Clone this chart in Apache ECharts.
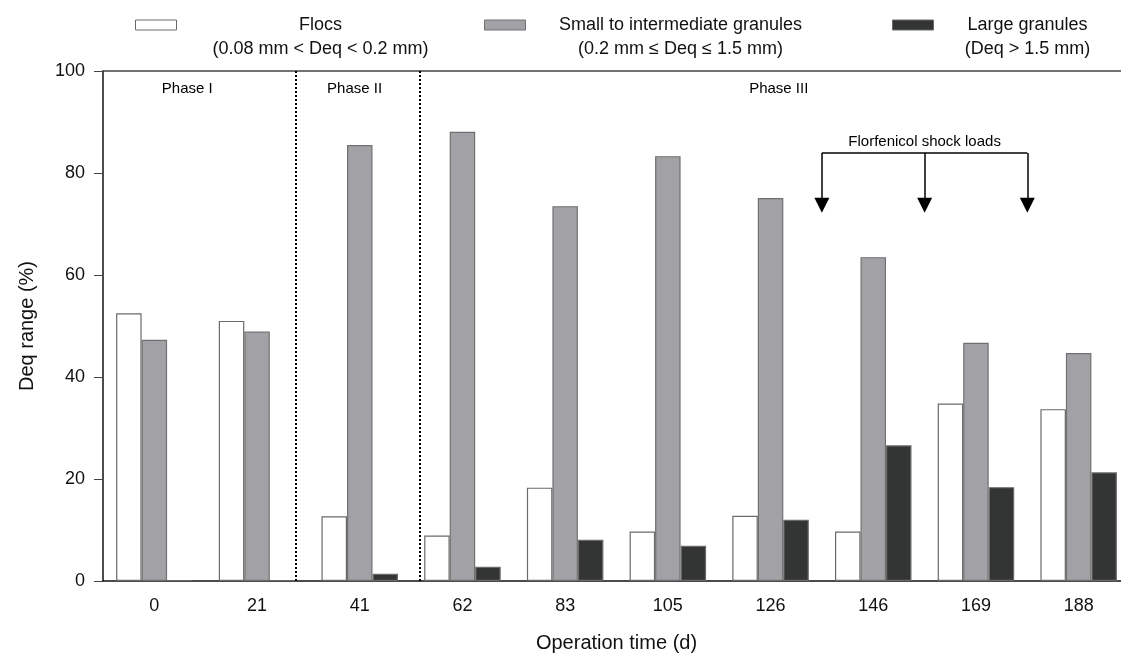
<!DOCTYPE html>
<html>
<head>
<meta charset="utf-8">
<script src="https://cdn.jsdelivr.net/npm/echarts@6/dist/echarts.min.js"></script>
<style>
  html, body { margin: 0; padding: 0; background: #fff; }
  #chart { width: 1121px; height: 654px; }
</style>
</head>
<body>
<div id="chart"></div>
<script>
// operation days
var days = ['0', '21', '41', '62', '83', '105', '126', '146', '169', '188'];

// Deq range (%) per size class
var flocs    = [52.5, 51.0, 12.7, 8.9, 18.3, 9.7, 12.8, 9.7, 34.8, 33.7];
var smallMid = [47.3, 48.9, 85.5, 88.1, 73.5, 83.3, 75.1, 63.5, 46.7, 44.7];
var large    = [0.2, 0.2, 1.4, 2.8, 8.1, 6.9, 12.0, 26.6, 18.4, 21.3];

// annotations (x in category units, y in %)
var phaseBounds = [1.38, 2.58];
var phaseLabels = [[0.32, 96.5, 'Phase I'], [1.95, 96.5, 'Phase II'], [6.08, 96.5, 'Phase III']];
var shockDays = [6.5, 7.5, 8.5];
var shockTop = 83.9, shockTip = 73.7;

var FONT = '"Liberation Sans", Arial, Helvetica, sans-serif';

var chart = echarts.init(document.getElementById('chart'));

function legendBox(name, left, width, line1, line2) {
    return {
        data: [name],
        left: left,
        top: 16,
        padding: 0,
        icon: 'rect',
        itemWidth: 41,
        itemHeight: 10,
        selectedMode: false,
        itemStyle: { borderWidth: 1 },
        formatter: function () { return '{a|' + line1 + '}\n{a|' + line2 + '}'; },
        textStyle: {
            fontFamily: FONT,
            fontSize: 18,
            color: '#111',
            padding: [24, 0, 0, 0],
            rich: { a: { width: width, align: 'center', fontSize: 18, lineHeight: 24, fontFamily: FONT, color: '#111' } }
        }
    };
}

// arrow lines
var shockLines = [[{ coord: [shockDays[0], shockTop], symbol: 'none' }, { coord: [shockDays[2], shockTop], symbol: 'none' }]];
shockDays.forEach(function (d) {
    shockLines.push([{ coord: [d, shockTop], symbol: 'none' }, { coord: [d, shockTip], symbol: 'triangle' }]);
});

var option = {
    animation: false,
    backgroundColor: '#fff',
    legend: [
        legendBox('Flocs', 135, 278, 'Flocs', '(0.08 mm < Deq < 0.2 mm)'),
        legendBox('Small', 484, 300, 'Small to intermediate granules', '(0.2 mm ≤ Deq ≤ 1.5 mm)'),
        legendBox('Large', 892, 178, 'Large granules', '(Deq > 1.5 mm)')
    ],
    grid: { left: 103, right: -9, top: 71, bottom: 73, outerBoundsMode: 'none', containLabel: false },
    xAxis: [{
        type: 'category',
        data: days,
        name: 'Operation time (d)',
        nameLocation: 'middle',
        nameGap: 52,
        nameTextStyle: { fontFamily: FONT, fontSize: 20, color: '#111' },
        axisLine: { lineStyle: { color: '#111', width: 1.5 } },
        axisTick: { alignWithLabel: true, length: 6, lineStyle: { color: '#444' } },
        axisLabel: { fontFamily: FONT, fontSize: 18, color: '#111', margin: 16 }
    }, {
        type: 'value',
        position: 'top',
        min: -0.5,
        max: 9.5,
        axisLine: { show: true, onZero: false, lineStyle: { color: '#444', width: 1.5 } },
        axisTick: { show: false },
        axisLabel: { show: false },
        splitLine: { show: false }
    }],
    yAxis: {
        type: 'value',
        min: 0,
        max: 100,
        interval: 20,
        name: 'Deq range (%)',
        nameLocation: 'middle',
        nameGap: 66,
        nameTextStyle: { fontFamily: FONT, fontSize: 20, color: '#111' },
        axisLine: { show: true, onZero: false, lineStyle: { color: '#111', width: 1.5 } },
        axisTick: { show: true, length: 9, lineStyle: { color: '#444' } },
        axisLabel: { fontFamily: FONT, fontSize: 18, color: '#111', margin: 18 },
        splitLine: { show: false }
    },
    series: [{
        name: 'Flocs',
        type: 'bar',
        data: flocs,
        barWidth: 25.5,
        barGap: '0%',
        itemStyle: { color: '#ffffff', borderColor: '#6a6a6a', borderWidth: 1.2 }
    }, {
        name: 'Small',
        type: 'bar',
        data: smallMid,
        barWidth: 25.5,
        barGap: '0%',
        itemStyle: { color: '#a2a1a5', borderColor: '#707070', borderWidth: 1.2 }
    }, {
        name: 'Large',
        type: 'bar',
        data: large,
        barWidth: 25.5,
        barGap: '0%',
        itemStyle: { color: '#333534', borderColor: '#6a6a6a', borderWidth: 1.2 }
    }, {
        // phase dividers, phase names and shock-load arrows
        name: 'notes',
        type: 'scatter',
        xAxisIndex: 1,
        symbolSize: 0,
        silent: true,
        itemStyle: { opacity: 1 },
        data: phaseLabels.concat([[7.5, 86.2, 'Florfenicol shock loads']]),
        label: {
            show: true,
            position: 'inside',
            formatter: function (p) { return p.data[2]; },
            fontFamily: FONT,
            fontSize: 15,
            color: '#000'
        },
        markLine: {
            silent: true,
            symbol: 'none',
            symbolSize: 15,
            label: { show: false },
            lineStyle: { color: '#000', width: 1.5, type: 'solid' },
            data: phaseBounds.map(function (b) {
                return { xAxis: b, lineStyle: { type: 'dotted', width: 2, color: '#000' } };
            }).concat(shockLines)
        }
    }]
};

chart.setOption(option);
</script>
</body>
</html>
